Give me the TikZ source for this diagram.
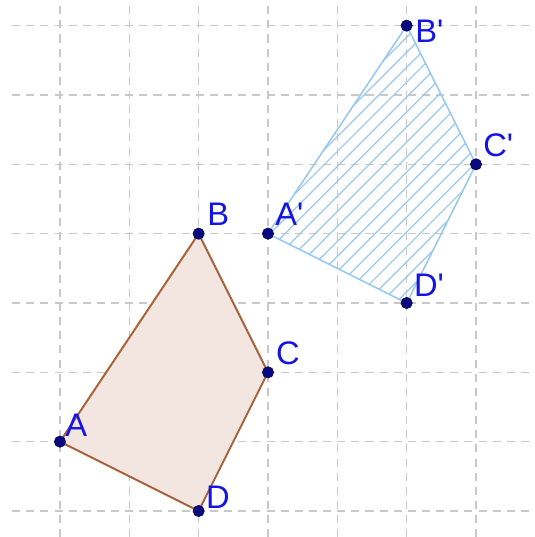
\documentclass[tikz,border=0pt]{standalone}
\usepackage{fontspec}
\newfontfamily\labfont{Liberation Sans}
\definecolor{gridc}{HTML}{C8C8C8}
\definecolor{brownc}{HTML}{A8643C}
\definecolor{fillc}{HTML}{F3E6E1}
\definecolor{bluec}{HTML}{99C8F0}
\definecolor{dotc}{HTML}{0A0A80}
\definecolor{labc}{HTML}{1414E6}
\tikzset{
  gridline/.style={gridc, line width=0.5pt, dash pattern=on 3.3pt off 2.5pt},
  pt/.style={circle, fill=dotc, draw=dotc!70!black, line width=0.3pt, inner sep=0pt, minimum size=4.6pt},
  lab/.style={anchor=base west, inner sep=0pt, text=labc, font=\labfont\fontsize{13.4}{15}\selectfont},
}
\begin{document}
\begin{tikzpicture}
\useasboundingbox (-0.865,-0.375) rectangle (6.85,7.37);
% grid
\foreach \y in {0,...,7} \draw[gridline] (-0.69,\y) -- (6.85,\y);
\foreach \x in {0,...,6} \draw[gridline] (\x,7.28) -- (\x,-0.375);
% points
\coordinate (A) at (0,1);
\coordinate (B) at (2,4);
\coordinate (C) at (3,2);
\coordinate (D) at (2,0);
\coordinate (A') at (3,4);
\coordinate (B') at (5,7);
\coordinate (C') at (6,5);
\coordinate (D') at (5,3);
% ABCD
\fill[fillc] (A) -- (B) -- (C) -- (D) -- cycle;
\draw[brownc, line width=0.8pt, line join=round] (A) -- (B) -- (C) -- (D) -- cycle;
% A'B'C'D' hatched
\begin{scope}
\clip (A') -- (B') -- (C') -- (D') -- cycle;
\foreach \c in {-4.0,-3.784,...,2.5} \draw[bluec, line width=0.5pt] (2.5,2.5+\c) -- (6.5,6.5+\c);
\end{scope}
\draw[bluec, line width=0.65pt, line join=round] (A') -- (B') -- (C') -- (D') -- cycle;
% dots
\foreach \p in {A,B,C,D,A',B',C',D'} \node[pt] (n\p) at (\p) {};
% labels
\node[lab] (lA) at (0.07,1.07) {A};
\node[lab] (lB) at (2.12,4.12) {B};
\node[lab] (lC) at (3.11,2.12) {C};
\node[lab] (lD) at (2.1,0.04) {D};
\node[lab] (lA') at (3.1,4.12) {A'};
\node[lab] (lB') at (5.12,6.755) {B'};
\node[lab] (lC') at (6.1,5.115) {C'};
\node[lab] (lD') at (5.1,3.09) {D'};
\end{tikzpicture}
\end{document}
